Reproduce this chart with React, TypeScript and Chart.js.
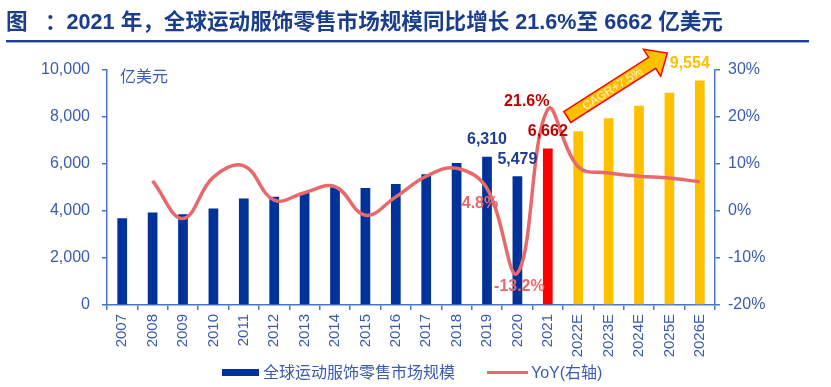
import React, { useEffect, useRef } from "react";
import { Chart, registerables } from "chart.js";

Chart.register(...registerables);

const categories = ["2007", "2008", "2009", "2010", "2011", "2012", "2013", "2014", "2015", "2016", "2017", "2018", "2019", "2020", "2021", "2022E", "2023E", "2024E", "2025E", "2026E"];
const marketSize = [3690, 3940, 3860, 4110, 4530, 4610, 4780, 5010, 4980, 5150, 5560, 6040, 6310, 5479, 6662, 7390, 7950, 8480, 9030, 9554];
const yoyGrowth = [null, 6.4, -1.6, 7.2, 9.6, 2.3, 3.9, 5.2, -0.9, 3.0, 7.4, 9.1, 4.8, -13.2, 21.6, 9.4, 8.1, 7.4, 7.0, 6.2];
const leftTicks = [0, 2000, 4000, 6000, 8000, 10000];
const rightTicks = [-20, -10, 0, 10, 20, 30];
const actualLastIndex = 14; // 2021
const barLabelIdx = [12, 13, 14, 19];
const yoyLabelIdx = [12, 13, 14];
const cagrText = "CAGR+7.5%";

const NAVY = "#003399";
const RED = "#FF0000";
const GOLD = "#FFC000";
const LINE = "#E8696B";
const AXIS = "#4A74C8";
const TICK_TXT = "#3B5BAE";
const FONT = "'Liberation Sans', Arial, 'Noto Sans CJK SC', sans-serif";

const barColors = categories.map((_, i) => (i < actualLastIndex ? NAVY : i === actualLastIndex ? RED : GOLD));

const fmt = (v: number) => v.toLocaleString("en-US");

const overlayPlugin = {
  id: "overlay",
  afterDatasetsDraw(chart: any) {
    const ctx = chart.ctx;
    const xs = chart.scales.x;
    const ys = chart.scales.y;
    const bars = chart.getDatasetMeta(1).data;
    const pts = chart.getDatasetMeta(0).data;
    ctx.save();
    ctx.textAlign = "center";
    ctx.textBaseline = "middle";
    ctx.font = `bold 16px ${FONT}`;
    // bar value labels
    barLabelIdx.forEach((i) => {
      const b = bars[i];
      let color = "#1F3C99";
      let dx = 0;
      if (i === actualLastIndex) color = "#C00000";
      if (i > actualLastIndex) { color = GOLD; dx = -10; }
      ctx.fillStyle = color;
      ctx.fillText(fmt(marketSize[i]), b.x + dx, b.y - 17);
    });
    // yoy labels
    yoyLabelIdx.forEach((i) => {
      const p = pts[i];
      const v = yoyGrowth[i] as number;
      const txt = v.toFixed(1) + "%";
      if (i === actualLastIndex) {
        ctx.fillStyle = "#C00000";
        ctx.fillText(txt, p.x - 21, p.y - 8);
      } else if (v < 0) {
        ctx.fillStyle = LINE;
        ctx.fillText(txt, p.x + 2, p.y + 14);
      } else {
        ctx.fillStyle = LINE;
        ctx.fillText(txt, p.x - 7, p.y + 15);
      }
    });
    // unit label
    ctx.textAlign = "left";
    ctx.font = `16px ${FONT}`;
    ctx.fillStyle = TICK_TXT;
    ctx.fillText("亿美元", chart.chartArea.left + 13, chart.chartArea.top + 8);
    // CAGR arrow
    const x0 = xs.getPixelForValue(14.64), y0 = ys.getPixelForValue(8000);
    const x1 = xs.getPixelForValue(17.93), y1 = ys.getPixelForValue(10720);
    const ang = Math.atan2(y1 - y0, x1 - x0);
    const len = Math.hypot(x1 - x0, y1 - y0);
    const bw = 6.5, hw = 16, hl = 18;
    ctx.translate(x0, y0);
    ctx.rotate(ang);
    ctx.beginPath();
    ctx.moveTo(0, -bw);
    ctx.lineTo(len - hl, -bw);
    ctx.lineTo(len - hl, -hw);
    ctx.lineTo(len, 0);
    ctx.lineTo(len - hl, hw);
    ctx.lineTo(len - hl, bw);
    ctx.lineTo(0, bw);
    ctx.closePath();
    ctx.fillStyle = GOLD;
    ctx.fill();
    ctx.strokeStyle = RED;
    ctx.lineWidth = 1.5;
    ctx.stroke();
    ctx.fillStyle = "#FFF2CC";
    ctx.font = `12px ${FONT}`;
    ctx.textAlign = "center";
    ctx.fillText(cagrText, (len - hl) / 2 + 3, 1);
    ctx.restore();
  },
};

export default function App() {
  const ref = useRef<HTMLCanvasElement | null>(null);
  useEffect(() => {
    document.body.style.margin = "0";
    const canvas = ref.current!;
    const chart = new Chart(canvas, {
      type: "bar",
      data: {
        labels: categories,
        datasets: [
          {
            type: "line",
            label: "YoY(右轴)",
            data: yoyGrowth as any,
            yAxisID: "y1",
            borderColor: LINE,
            borderWidth: 3.5,
            pointRadius: 0,
            tension: 0.4,
            fill: false,
            order: 0,
          } as any,
          {
            type: "bar",
            label: "全球运动服饰零售市场规模",
            data: marketSize,
            yAxisID: "y",
            backgroundColor: barColors,
            categoryPercentage: 1,
            barPercentage: 0.32,
            order: 1,
          },
        ],
      },
      options: {
        animation: false,
        responsive: false,
        devicePixelRatio: 1,
        layout: { padding: { left: 8, right: 36, top: 70, bottom: 0 } },
        plugins: { legend: { display: false }, tooltip: { enabled: false } },
        scales: {
          x: {
            offset: true,
            grid: { display: true, drawOnChartArea: false, offset: true, tickLength: 5, color: AXIS, tickColor: AXIS, lineWidth: 1.5 },
            border: { color: AXIS, width: 1.5 },
            ticks: { minRotation: 90, maxRotation: 90, autoSkip: false, padding: 4, color: TICK_TXT, font: { family: FONT, size: 15 } },
            afterFit: (s: any) => { s.height = 82; },
          },
          y: {
            position: "left",
            min: 0,
            max: 10000,
            grid: { display: true, drawOnChartArea: false, tickLength: 5, color: AXIS, tickColor: AXIS, lineWidth: 1.5 },
            border: { color: AXIS, width: 1.5 },
            afterBuildTicks: (s: any) => { s.ticks = leftTicks.map((v) => ({ value: v })); },
            ticks: { padding: 12, color: TICK_TXT, font: { family: FONT, size: 16 }, callback: (v: any) => fmt(Number(v)) },
            afterFit: (s: any) => { s.width = 99; },
          },
          y1: {
            position: "right",
            min: -20,
            max: 30,
            grid: { display: true, drawOnChartArea: false, tickLength: 5, color: AXIS, tickColor: AXIS, lineWidth: 1.5 },
            border: { color: AXIS, width: 1.5 },
            afterBuildTicks: (s: any) => { s.ticks = rightTicks.map((v) => ({ value: v })); },
            ticks: { padding: 8, color: TICK_TXT, font: { family: FONT, size: 16 }, callback: (v: any) => v + "%" },
            afterFit: (s: any) => { s.width = 80; },
          },
        },
      } as any,
      plugins: [overlayPlugin],
    });
    return () => chart.destroy();
  }, []);

  const titleStyle: React.CSSProperties = { position: "absolute", top: 9, fontFamily: FONT, fontWeight: "bold", fontSize: 21.6, color: "#1A3E8C", whiteSpace: "pre", lineHeight: "26px" };

  return (
    <div style={{ position: "relative", width: 831, height: 387, background: "#fff", overflow: "hidden" }}>
      <canvas ref={ref} width={831} height={387} style={{ position: "absolute", left: 0, top: 0, width: 831, height: 387 }} />
      <div style={{ ...titleStyle, left: 6 }}>图</div>
      <div style={{ ...titleStyle, left: 45 }}>{"：2021 年，全球运动服饰零售市场规模同比增长 21.6%至 6662 亿美元"}</div>
      <div style={{ position: "absolute", left: 6, top: 40, width: 803, height: 2, background: "#1F3F8F" }} />
      <div style={{ position: "absolute", left: 6, top: 42, width: 803, height: 1, background: "#9DB2DE" }} />
      <div style={{ position: "absolute", left: 222, top: 369, width: 37, height: 7, background: NAVY }} />
      <div style={{ position: "absolute", left: 263, top: 362, fontFamily: FONT, fontSize: 16, color: TICK_TXT, lineHeight: "22px", whiteSpace: "pre" }}>全球运动服饰零售市场规模</div>
      <div style={{ position: "absolute", left: 487, top: 371, width: 41, height: 3, background: LINE }} />
      <div style={{ position: "absolute", left: 531, top: 362, fontFamily: FONT, fontSize: 16, color: TICK_TXT, lineHeight: "22px", whiteSpace: "pre" }}>YoY(右轴)</div>
    </div>
  );
}
